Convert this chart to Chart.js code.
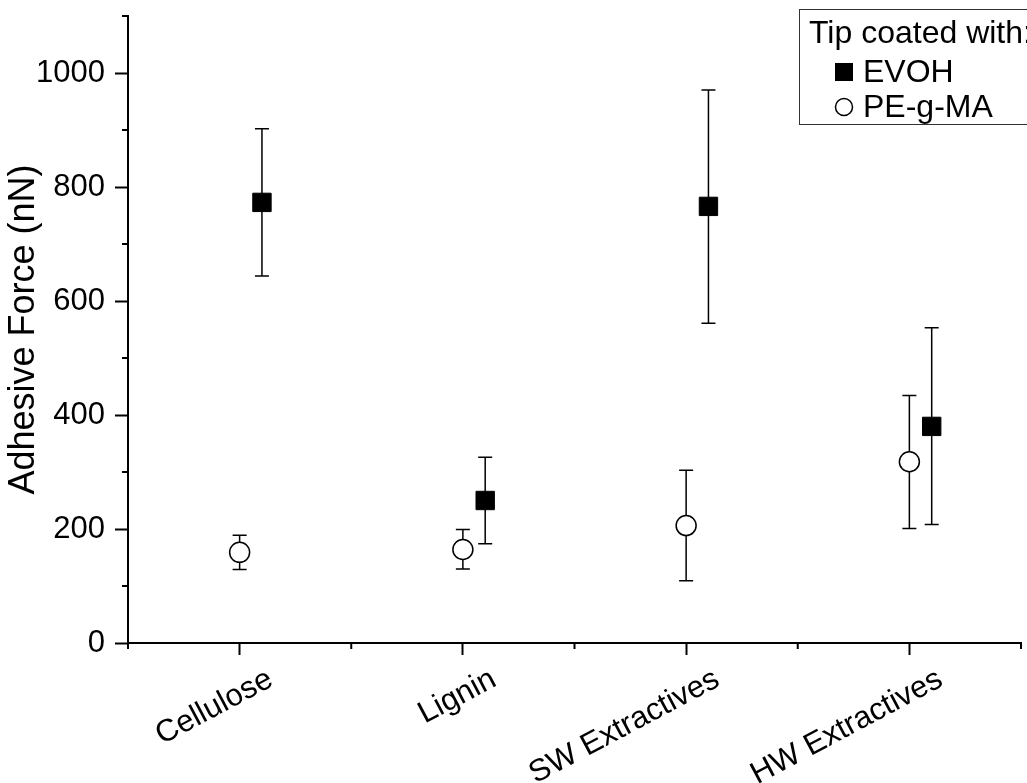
<!DOCTYPE html>
<html>
<head>
<meta charset="utf-8">
<script src="https://cdn.jsdelivr.net/npm/chart.js@4/dist/chart.umd.min.js"></script>
<style>
  html, body { margin: 0; padding: 0; background: #fff; }
</style>
</head>
<body>
<canvas id="forceChart" width="1027" height="783"></canvas>
<script>
const categories = ['Cellulose', 'Lignin', 'SW Extractives', 'HW Extractives'];
const evohMean = [773, 250, 766, 380];
const evohLow = [644, 174, 561, 208];
const evohHigh = [902, 326, 970, 553];
const pegmaMean = [159, 164, 206, 318];
const pegmaLow = [129, 130, 109, 201];
const pegmaHigh = [189, 199, 303, 434];
const yTicks = [0, 200, 400, 600, 800, 1000];
const yMinorTicks = [100, 300, 500, 700, 900, 1100];
const xMinorTicks = [-0.5, 0.5, 1.5, 2.5, 3.5];
const legendTitle = 'Tip coated with:';

const FONT = '"Liberation Sans", Arial, sans-serif';
const evohShift = 0.1;

// error bars under the markers
const errorBars = {
  id: 'errorBars',
  beforeDatasetsDraw(chart) {
    const ctx = chart.ctx;
    const y = chart.scales.y;
    ctx.save();
    ctx.strokeStyle = '#000';
    ctx.lineWidth = 1.5;
    chart.data.datasets.forEach((ds, di) => {
      chart.getDatasetMeta(di).data.forEach((pt, i) => {
        const top = y.getPixelForValue(ds.errHigh[i]);
        const bot = y.getPixelForValue(ds.errLow[i]);
        const x = pt.x;
        ctx.beginPath();
        ctx.moveTo(x, top); ctx.lineTo(x, bot);
        ctx.moveTo(x - 7, top); ctx.lineTo(x + 7, top);
        ctx.moveTo(x - 7, bot); ctx.lineTo(x + 7, bot);
        ctx.stroke();
      });
    });
    ctx.restore();
  }
};

// minor ticks + boxed legend
const extras = {
  id: 'extras',
  afterDraw(chart) {
    const ctx = chart.ctx;
    const xs = chart.scales.x, ys = chart.scales.y;
    ctx.save();
    ctx.strokeStyle = '#000';
    ctx.lineWidth = 2;
    ctx.beginPath();
    xMinorTicks.forEach(v => {
      const px = xs.getPixelForValue(v);
      ctx.moveTo(px, xs.top); ctx.lineTo(px, xs.top + 6);
    });
    yMinorTicks.forEach(v => {
      const py = ys.getPixelForValue(v);
      ctx.moveTo(ys.right, py); ctx.lineTo(ys.right - 6, py);
    });
    ctx.stroke();

    // legend
    ctx.lineWidth = 1;
    ctx.strokeStyle = '#333';
    ctx.fillStyle = '#fff';
    ctx.fillRect(799, 9, 240, 115);
    ctx.strokeRect(799.5, 9.5, 240, 115);
    ctx.fillStyle = '#000';
    ctx.font = '32px ' + FONT;
    ctx.textBaseline = 'alphabetic';
    ctx.fillText(legendTitle, 809, 43);
    const rows = [82, 117];
    chart.data.datasets.forEach((ds, i) => {
      const base = rows[i];
      const cy = base - 10;
      ctx.fillStyle = '#000';
      if (ds.pointStyle === 'rect') {
        ctx.fillRect(835, cy - 9, 18, 18);
      } else {
        ctx.beginPath();
        ctx.arc(844, cy, 8.5, 0, Math.PI * 2);
        ctx.fillStyle = '#fff';
        ctx.fill();
        ctx.lineWidth = 1.5;
        ctx.strokeStyle = '#000';
        ctx.stroke();
      }
      ctx.fillStyle = '#000';
      ctx.fillText(ds.label, 863, base);
    });
    ctx.restore();
  }
};

new Chart(document.getElementById('forceChart'), {
  type: 'scatter',
  data: {
    datasets: [{
      label: 'EVOH',
      data: evohMean.map((v, i) => ({ x: i + evohShift, y: v })),
      errLow: evohLow,
      errHigh: evohHigh,
      pointStyle: 'rect',
      pointRadius: 13,
      backgroundColor: '#000',
      borderColor: '#000',
      borderWidth: 1
    }, {
      label: 'PE-g-MA',
      data: pegmaMean.map((v, i) => ({ x: i, y: v })),
      errLow: pegmaLow,
      errHigh: pegmaHigh,
      pointStyle: 'circle',
      pointRadius: 10,
      backgroundColor: '#fff',
      borderColor: '#000',
      borderWidth: 1.5
    }]
  },
  options: {
    responsive: false,
    animation: false,
    devicePixelRatio: 1,
    layout: { autoPadding: false, padding: { top: 16, right: 6, left: 0, bottom: 0 } },
    plugins: { legend: { display: false }, tooltip: { enabled: false } },
    scales: {
      x: {
        type: 'linear',
        min: -0.5,
        max: 3.5,
        afterBuildTicks(scale) { scale.ticks = categories.map((c, i) => ({ value: i })); },
        afterFit(scale) {
          scale.height = 140;
          scale.paddingLeft = 0;
          scale.paddingRight = 0;
        },
        border: { display: true, color: '#000', width: 2 },
        grid: { drawOnChartArea: false, drawTicks: true, tickLength: 12, tickColor: '#000', tickWidth: 2 },
        ticks: {
          callback: v => categories[v],
          minRotation: 28,
          maxRotation: 28,
          autoSkip: false,
          labelOffset: 31,
          padding: 6,
          color: '#000',
          font: { family: FONT, size: 31 }
        }
      },
      y: {
        min: 0,
        max: 1100,
        afterBuildTicks(scale) { scale.ticks = yTicks.map(v => ({ value: v })); },
        afterFit(scale) {
          scale.width = 128;
          scale.paddingTop = 0;
          scale.paddingBottom = 0;
        },
        border: { display: true, color: '#000', width: 2 },
        grid: { drawOnChartArea: false, drawTicks: true, tickLength: 13, tickColor: '#000', tickWidth: 2 },
        ticks: {
          callback: v => String(v),
          padding: 10,
          color: '#000',
          font: { family: FONT, size: 31 }
        },
        title: {
          display: true,
          text: 'Adhesive Force (nN)',
          color: '#000',
          font: { family: FONT, size: 36 },
          padding: { top: 2, bottom: 0 }
        }
      }
    }
  },
  plugins: [errorBars, extras]
});
</script>
</body>
</html>
